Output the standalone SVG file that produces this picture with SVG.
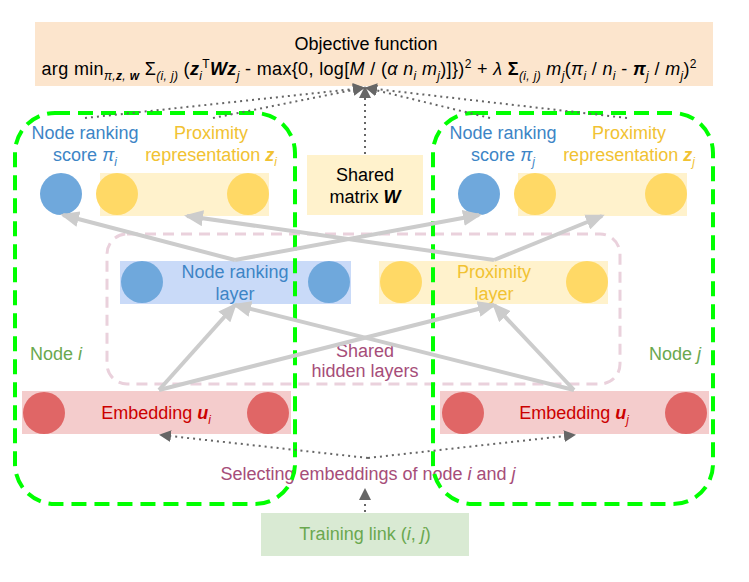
<svg xmlns="http://www.w3.org/2000/svg" width="749" height="582" viewBox="0 0 749 582">
<defs>
<style>
text{font-family:"Liberation Sans",Arial,sans-serif;font-size:18px}
.blk{fill:#000}
.blue{fill:#3D85C6}
.yel{fill:#F1C232}
.red{fill:#CC0000}
.grn{fill:#6AA84F}
.pur{fill:#A64D79}
.bi{font-weight:bold;font-style:italic}
.it{font-style:italic}
.sb{font-size:12px;font-style:italic}
.cb{fill:#6FA8DC}
.cy{fill:#FFD966}
.cr{fill:#E06666}
.gray{fill:none;stroke:#CCCCCC;stroke-width:4}
.dot{fill:none;stroke:#666666;stroke-width:2;stroke-dasharray:2,4}
.green{fill:none;stroke:#00FF00;stroke-width:4;stroke-dasharray:15,8}
</style>
<marker id="ga" markerUnits="userSpaceOnUse" markerWidth="20" markerHeight="16" refX="16" refY="8" orient="auto"><path d="M0,0 L19,8 L0,16 z" fill="#CCCCCC"/></marker>
<marker id="da" markerUnits="userSpaceOnUse" markerWidth="12" markerHeight="12" refX="10" refY="6" orient="auto"><path d="M0,0 L12,6 L0,12 z" fill="#666666"/></marker>
</defs>
<rect width="749" height="582" fill="#fff"/>

<g id="objective">
<rect x="35" y="22" width="678" height="64" fill="#FCE5CD"/>
<text class="blk" x="366" y="50" text-anchor="middle">Objective function</text>
<text class="blk" x="369" y="75" text-anchor="middle" textLength="655" lengthAdjust="spacing">arg min<tspan dy="5" class="sb">π,<tspan font-weight="bold">z</tspan>, <tspan font-weight="bold">w</tspan></tspan><tspan dy="-5"> Σ</tspan><tspan dy="5" class="sb">(i, j)</tspan><tspan dy="-5"> (</tspan><tspan class="bi">z</tspan><tspan dy="5" class="sb">i</tspan><tspan dy="-12" font-size="12">T</tspan><tspan dy="7" class="bi">Wz</tspan><tspan dy="5" class="sb">j</tspan><tspan dy="-5"> - max{0, log[</tspan><tspan class="it">M</tspan> / (<tspan class="it">α n</tspan><tspan dy="5" class="sb">i</tspan><tspan dy="-5" class="it"> m</tspan><tspan dy="5" class="sb">j</tspan><tspan dy="-5">)]})</tspan><tspan dy="-7" font-size="12">2</tspan><tspan dy="7"> + </tspan><tspan class="it">λ</tspan> <tspan font-weight="bold">Σ</tspan><tspan dy="5" class="sb">(i, j)</tspan><tspan dy="-5" class="it"> m</tspan><tspan dy="5" class="sb">j</tspan><tspan dy="-5">(</tspan><tspan class="it">π</tspan><tspan dy="5" class="sb">i</tspan><tspan dy="-5"> / </tspan><tspan class="it">n</tspan><tspan dy="5" class="sb">i</tspan><tspan dy="-5"> - </tspan><tspan class="bi">π</tspan><tspan dy="5" class="sb">j</tspan><tspan dy="-5"> / </tspan><tspan class="it">m</tspan><tspan dy="5" class="sb">j</tspan><tspan dy="-5">)</tspan><tspan dy="-7" font-size="12">2</tspan></text>
</g>

<g id="shared-hidden">
<rect x="107" y="234" width="513" height="150" rx="20" fill="none" stroke="#EAD1DC" stroke-width="3" stroke-dasharray="11,7"/>
<text class="pur" x="365" y="357" text-anchor="middle">Shared</text>
<text class="pur" x="365" y="377" text-anchor="middle">hidden layers</text>
</g>

<g id="score-i">
<text class="blue" x="85" y="139" text-anchor="middle">Node ranking</text>
<text class="blue" x="85" y="161" text-anchor="middle">score <tspan class="it">π</tspan><tspan dy="5" class="sb">i</tspan></text>
<circle class="cb" cx="61" cy="194" r="21"/>
</g>
<g id="prox-i">
<text class="yel" x="211" y="139" text-anchor="middle">Proximity</text>
<text class="yel" x="211" y="161" text-anchor="middle">representation <tspan class="bi">z</tspan><tspan dy="5" class="sb">i</tspan></text>
<rect x="100" y="173" width="169" height="43" fill="#FFF2CC"/>
<circle class="cy" cx="117" cy="194" r="21"/>
<circle class="cy" cx="248" cy="194" r="21"/>
</g>
<g id="score-j">
<text class="blue" x="503" y="139" text-anchor="middle">Node ranking</text>
<text class="blue" x="503" y="161" text-anchor="middle">score <tspan class="it">π</tspan><tspan dy="5" class="sb">j</tspan></text>
<circle class="cb" cx="479" cy="194" r="21"/>
</g>
<g id="prox-j">
<text class="yel" x="629" y="139" text-anchor="middle">Proximity</text>
<text class="yel" x="629" y="161" text-anchor="middle">representation <tspan class="bi">z</tspan><tspan dy="5" class="sb">j</tspan></text>
<rect x="518" y="173" width="169" height="43" fill="#FFF2CC"/>
<circle class="cy" cx="535" cy="194" r="21"/>
<circle class="cy" cx="666" cy="194" r="21"/>
</g>

<g id="shared-matrix">
<rect x="307" y="155" width="116" height="60" fill="#FFF2CC"/>
<text class="blk" x="365" y="181" text-anchor="middle">Shared</text>
<text class="blk" x="365" y="203" text-anchor="middle">matrix <tspan class="bi">W</tspan></text>
</g>

<g id="node-ranking-layer">
<rect x="120" y="261" width="231" height="43" fill="#C9DAF8"/>
<circle class="cb" cx="142" cy="282" r="21"/>
<circle class="cb" cx="329" cy="282" r="21"/>
<text class="blue" x="235" y="278" text-anchor="middle">Node ranking</text>
<text class="blue" x="235" y="300" text-anchor="middle">layer</text>
</g>
<g id="proximity-layer">
<rect x="379" y="261" width="229" height="43" fill="#FFF2CC"/>
<circle class="cy" cx="401" cy="282" r="21"/>
<circle class="cy" cx="587" cy="282" r="21"/>
<text class="yel" x="494" y="278" text-anchor="middle">Proximity</text>
<text class="yel" x="494" y="300" text-anchor="middle">layer</text>
</g>

<g id="embedding-i">
<rect x="22" y="391" width="269" height="43" fill="#F4CCCC"/>
<circle class="cr" cx="44" cy="413" r="21"/>
<circle class="cr" cx="268" cy="413" r="21"/>
<text class="red" x="156" y="419" text-anchor="middle">Embedding <tspan class="bi">u</tspan><tspan dy="5" class="sb">i</tspan></text>
</g>
<g id="embedding-j">
<rect x="440" y="391" width="269" height="43" fill="#F4CCCC"/>
<circle class="cr" cx="463" cy="413" r="21"/>
<circle class="cr" cx="686" cy="413" r="21"/>
<text class="red" x="574" y="419" text-anchor="middle">Embedding <tspan class="bi">u</tspan><tspan dy="5" class="sb">j</tspan></text>
</g>

<g id="selecting">
<text class="pur" x="368" y="480" text-anchor="middle">Selecting embeddings of node <tspan class="it">i</tspan> and <tspan class="it">j</tspan></text>
</g>

<g id="training-link">
<rect x="261" y="513" width="208" height="43" fill="#D9EAD3"/>
<text class="grn" x="365" y="540" text-anchor="middle">Training link (<tspan class="it">i</tspan>, <tspan class="it">j</tspan>)</text>
</g>

<g id="node-i">
<text class="grn" x="30" y="360">Node <tspan class="it">i</tspan></text>
<rect class="green" x="15" y="113" width="280" height="391" rx="40"/>
</g>
<g id="node-j">
<text class="grn" x="649" y="360">Node <tspan class="it">j</tspan></text>
<rect class="green" x="433" y="113" width="280" height="391" rx="40"/>
</g>

<g id="connectors">
<line class="gray" x1="235" y1="260" x2="63" y2="215" marker-end="url(#ga)"/>
<line class="gray" x1="494" y1="260" x2="187" y2="216" marker-end="url(#ga)"/>
<line class="gray" x1="235" y1="260" x2="479" y2="215" marker-end="url(#ga)"/>
<line class="gray" x1="494" y1="260" x2="602" y2="216" marker-end="url(#ga)"/>
<line class="gray" x1="159" y1="390" x2="235" y2="305" marker-end="url(#ga)"/>
<line class="gray" x1="159" y1="390" x2="494" y2="305" marker-end="url(#ga)"/>
<line class="gray" x1="574" y1="390" x2="235" y2="305" marker-end="url(#ga)"/>
<line class="gray" x1="574" y1="390" x2="494" y2="305" marker-end="url(#ga)"/>
<line class="dot" x1="365" y1="154" x2="365" y2="88" marker-end="url(#da)"/>
<line class="dot" x1="85" y1="118" x2="363" y2="88" marker-end="url(#da)"/>
<line class="dot" x1="213" y1="118" x2="363" y2="88" marker-end="url(#da)"/>
<line class="dot" x1="490" y1="118" x2="367" y2="88" marker-end="url(#da)"/>
<line class="dot" x1="627" y1="118" x2="367" y2="88" marker-end="url(#da)"/>
<line class="dot" x1="368" y1="458" x2="161" y2="435" marker-end="url(#da)"/>
<line class="dot" x1="368" y1="458" x2="574" y2="435" marker-end="url(#da)"/>
<line class="dot" x1="365" y1="512" x2="365" y2="490" marker-end="url(#da)"/>
</g>
</svg>
